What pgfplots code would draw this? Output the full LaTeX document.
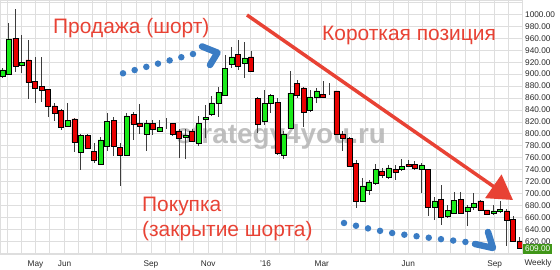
\documentclass[border=0pt]{standalone}
\usepackage{pgfplots}
\pgfplotsset{compat=1.18}
\usepackage{pgfplotstable}
\usepackage{fontspec}
\setmainfont{Liberation Sans}
\usetikzlibrary{arrows.meta}
\definecolor{cgreen}{RGB}{25,235,25}
\definecolor{cred}{RGB}{232,0,0}
\definecolor{wickc}{RGB}{60,60,60}
\definecolor{annred}{RGB}{232,66,52}
\definecolor{annblue}{RGB}{58,124,196}
\definecolor{gridc}{RGB}{222,222,222}
\definecolor{pricegreen}{RGB}{64,150,24}
\definecolor{labc}{RGB}{40,40,40}
\definecolor{wmark}{RGB}{180,180,180}

\pgfplotstableread{
i o h l c
0 897 910 893 907
1 900 986 898 959
2 960 1009 904 913
3 915 966 902 920
4 924 957 858 886
5 888 929 852 877
6 879 928 854 873
7 874 875 829 847
8 847 852 821 835
9 839 841 807 811
10 813 851 813 823
11 825 826 770 786
12 770 799 740 797
13 797 799 774 776
14 771 785 752 756
15 750 794 748 790
16 780 835 772 821
17 823 829 763 779
18 778 784 713 765
19 765 835 763 830
20 832 837 790 816
21 817 850 800 812
22 800 823 772 818
23 818 823 798 808
24 805 823 804 811
25 815 826 808 815
26 818 819 797 800
27 805 808 759 792
28 795 808 758 798
29 805 808 786 788
30 785 830 779 818
31 825 849 793 827
32 832 864 830 852
33 852 879 829 870
34 864 932 864 909
35 917 946 910 929
36 933 957 907 913
37 918 953 893 927
38 929 938 904 904
39 860 862 801 816
40 821 874 815 851
41 851 866 835 864
42 853 860 765 768
43 765 805 758 800
44 810 905 810 868
45 884 890 860 864
46 877 879 812 836
47 839 874 837 862
48 862 877 851 872
49 866 889 862 862
50 871 885 865 871
51 872 872 800 800
52 800 804 772 792
53 792 795 745 746
54 751 756 676 687
55 688 726 687 713
56 705 723 698 719
57 717 749 715 741
58 738 743 727 730
59 727 748 725 743
60 741 748 723 735
61 740 758 738 746
62 749 757 744 746
63 749 754 741 742
64 740 751 701 748
65 741 741 662 677
66 678 695 656 688
67 691 715 648 660
68 662 681 659 672
69 668 703 667 689
70 691 703 667 668
71 670 681 646 678
72 678 701 673 684
73 688 690 672 672
74 673 673 666 666
75 667 681 664 671
76 670 687 669 674
77 671 674 613 656
78 657 662 621 621
79 621 627 607 609
}\candles

\begin{document}
\begin{tikzpicture}
\useasboundingbox (0,0) rectangle (560bp,270bp);
\begin{axis}[
  at={(0bp,16bp)}, anchor=south west,
  scale only axis, width=522bp, height=254bp,
  xmin=-0.35, xmax=79.35, ymin=599, ymax=1024,
  ybar stacked, reverse stacked plots=false, bar width=5bp,
  axis line style={draw=gridc, line width=0.8bp},
  grid=major, major grid style={draw=gridc, line width=0.8bp},
  major tick length=0pt,
  xtick={0.76,2.91,5.06,7.21,9.51,11.66,13.81,15.96,18.25,20.40,22.70,24.85,27.00,29.15,31.44,33.59,35.74,37.89,40.19,42.34,44.63,46.78,48.79,50.94,53.23,55.38,57.53,59.68,61.98,64.13,66.28,68.43,70.72,72.87,75.17,77.32},
  xticklabels={,,May,,Jun,,,,,,Sep,,,,Nov,,,,'16,,,,Mar,,,,,,Jun,,,,,,Sep,},
  ytick={600,620,640,660,680,700,720,740,760,780,800,820,840,860,880,900,920,940,960,980,1000,1020},
  yticklabels={,620.00,640.00,660.00,680.00,700.00,720.00,740.00,760.00,780.00,800.00,820.00,840.00,860.00,880.00,900.00,920.00,940.00,960.00,980.00,1000.00,},
  yticklabel pos=right,
  yticklabel style={anchor=west, inner sep=0pt, xshift=3bp, font=\fontsize{8.3}{10}\selectfont, text=labc},
  xticklabel style={anchor=base, inner sep=0pt, yshift=-12bp, font=\fontsize{8.3}{10}\selectfont, text=labc},
]
\node[font=\bfseries\fontsize{28}{30}\selectfont, text=wmark, opacity=0.85] at (axis cs:42.6,795) {strategy4you.ru};
\addplot[draw=none, fill=none,
  error bars/.cd, y dir=both, y explicit, error mark=none,
  error bar style={draw=wickc, line width=0.9bp, solid}]
  table[x=i, y expr={min(\thisrow{o},\thisrow{c})},
        y error plus expr={\thisrow{h}-min(\thisrow{o},\thisrow{c})},
        y error minus expr={min(\thisrow{o},\thisrow{c})-\thisrow{l}}] {\candles};
\addplot[fill=cgreen, draw=black, line width=0.5bp]
  table[x=i, y expr={max(\thisrow{c}-\thisrow{o},0)}] {\candles};
\addplot[fill=cred, draw=black, line width=0.5bp]
  table[x=i, y expr={max(\thisrow{o}-\thisrow{c},0)}] {\candles};
\end{axis}
\begin{scope}[x=1bp, y=-1bp, shift={(0bp,270bp)}]
  \draw[annred, line width=3.5bp, -{Triangle[length=24bp, width=28bp]}] (247,15) -- (513,200);
  \draw[annblue, line width=6.5bp, line cap=round, dash pattern=on 0bp off 12.1bp]
     (123,73.3) -- (193,54);
  \draw[annblue, line width=6.5bp, line cap=round, line join=round] (202,46.5) -- (217.5,52.7) -- (210,65);
  \draw[annblue, line width=6.5bp, line cap=round, dash pattern=on 0bp off 12.3bp]
     plot[smooth] coordinates {(344,223) (392,233) (466,242)};
  \draw[annblue, line width=6.5bp, line cap=round, line join=round] (475,244) -- (493,248) -- (488,232);
  \node[anchor=base west, inner sep=0pt, text=annred, font=\fontsize{21}{25}\selectfont] at (53,33.3) {Продажа (шорт)};
  \node[anchor=base west, inner sep=0pt, text=annred, font=\fontsize{21}{25}\selectfont] at (322,40.5) {Короткая позиция};
  \node[anchor=base west, inner sep=0pt, text=annred, font=\fontsize{21}{25}\selectfont] at (142,212) {Покупка};
  \node[anchor=base west, inner sep=0pt, text=annred, font=\fontsize{21}{25}\selectfont] at (142,237) {(закрытие шорта)};
  \node[anchor=base, inner sep=0pt, text=labc, font=\fontsize{8.3}{10}\selectfont] at (538,266) {Weekly};
  \node[anchor=west, fill=pricegreen, text=white, inner sep=0pt, minimum width=29bp, minimum height=10.5bp, font=\fontsize{8.3}{10}\selectfont] at (523,249) {609.00};
\end{scope}
\end{tikzpicture}
\end{document}
